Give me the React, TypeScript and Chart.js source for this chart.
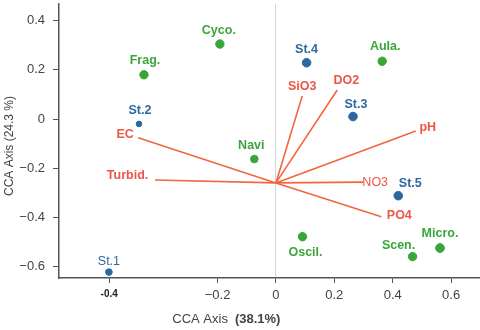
import React, { useEffect, useRef } from "react";
import { Chart, registerables } from "chart.js";

Chart.register(...registerables);

// ---- data ----
const siteNames = ["St.1", "St.2", "St.3", "St.4", "St.5"];
const siteX = [-0.572, -0.469, 0.264, 0.105, 0.419];
const siteY = [-0.623, -0.02, 0.01, 0.229, -0.312];

const speciesNames = ["Frag.", "Cyco.", "Aula.", "Navi", "Oscil.", "Scen.", "Micro."];
const speciesX = [-0.452, -0.192, 0.364, -0.074, 0.091, 0.468, 0.562];
const speciesY = [0.18, 0.305, 0.235, -0.163, -0.479, -0.56, -0.525];

const envNames = ["EC", "Turbid.", "SiO3", "DO2", "pH", "NO3", "PO4"];
const envX = [-0.472, -0.414, 0.09, 0.21, 0.479, 0.299, 0.361];
const envY = [-0.076, -0.248, 0.094, 0.118, -0.049, -0.257, -0.398];
const envOrigin = { x: 0, y: -0.26 };

const xTickValues = [-0.571, -0.2, 0, 0.2, 0.4, 0.6];
const xTickLabels = ["-0.4", "\u22120.2", "0", "0.2", "0.4", "0.6"];
const yTickValues = [-0.6, -0.4, -0.2, 0, 0.2, 0.4];
const yTickLabels = ["\u22120.6", "\u22120.4", "\u22120.2", "0", "0.2", "0.4"];

const xTitleMain = "CCA Axis";
const xTitleBold = "(38.1%)";
const yTitle = "CCA Axis (24.3 %)";

// ---- styles ----
const FONT = "'Liberation Sans', Arial, Helvetica, sans-serif";
const BLUE = "#2c68a0";
const GREEN = "#3aa63a";
const RED_LINE = "#f2653d";
const RED_TEXT = "#ec5646";
const AXIS = "#555555";
const TEXT = "#444444";
const LABEL_SIZE = 12.5;

const siteRadius = [3.3, 2.8, 4.3, 4.3, 4.3];
const speciesRadius = [4.2, 4.2, 4.2, 3.8, 4.2, 4.2, 4.4];

// label offsets (pixels, relative to point) and font weights
const siteLabelStyle = [
  { dx: 0, dy: -11, bold: false },
  { dx: 1, dy: -13, bold: true },
  { dx: 3, dy: -12, bold: true },
  { dx: 0, dy: -13, bold: true },
  { dx: 12, dy: -12, bold: true },
];
const speciesLabelStyle = [
  { dx: 1, dy: -14, bold: true },
  { dx: -1, dy: -14, bold: true },
  { dx: 3, dy: -15, bold: true },
  { dx: -3, dy: -14, bold: true },
  { dx: 3, dy: 16, bold: true },
  { dx: -14, dy: -11, bold: true },
  { dx: 0, dy: -14, bold: true },
];
const envLabelStyle = [
  { dx: -13, dy: -3, bold: true },
  { dx: -27.5, dy: -4, bold: true },
  { dx: 0, dy: -9.5, bold: true },
  { dx: 9, dy: -9, bold: true },
  { dx: 12, dy: -4, bold: true },
  { dx: 12, dy: 0, bold: false },
  { dx: 18, dy: -1, bold: true },
];

const labelPlugin = {
  id: "labelPlugin",
  afterDatasetsDraw(chart: any) {
    const ctx = chart.ctx;
    ctx.save();
    ctx.textAlign = "center";
    ctx.textBaseline = "middle";
    const drawSet = (dsIndex: number, names: string[], styles: any[], color: string) => {
      const meta = chart.getDatasetMeta(dsIndex);
      names.forEach((n, i) => {
        const el = meta.data[i];
        if (!el) return;
        const s = styles[i];
        ctx.font = `${s.bold ? "bold " : ""}${LABEL_SIZE}px ${FONT}`;
        ctx.fillStyle = color;
        ctx.fillText(n, el.x + s.dx, el.y + s.dy);
      });
    };
    drawSet(0, siteNames, siteLabelStyle, BLUE);
    drawSet(1, speciesNames, speciesLabelStyle, GREEN);
    envNames.forEach((n, i) => {
      const meta = chart.getDatasetMeta(2 + i);
      const el = meta.data[1];
      if (!el) return;
      const s = envLabelStyle[i];
      ctx.font = `${s.bold ? "bold " : ""}${LABEL_SIZE}px ${FONT}`;
      ctx.fillStyle = RED_TEXT;
      ctx.fillText(n, el.x + s.dx, el.y + s.dy);
    });

    // axis titles
    const xs = chart.scales.x;
    const area = chart.chartArea;
    ctx.fillStyle = TEXT;
    ctx.textAlign = "left";
    ctx.font = `13px ${FONT}`;
    const startX = xs.getPixelForValue(-0.355);
    ctx.fillText(xTitleMain, startX, 319);
    const w = ctx.measureText(xTitleMain).width;
    ctx.font = `bold 13px ${FONT}`;
    ctx.fillText(xTitleBold, startX + w + 7, 319);

    ctx.translate(10, (area.top + area.bottom) / 2 + 5);
    ctx.rotate(-Math.PI / 2);
    ctx.textAlign = "center";
    ctx.font = `12px ${FONT}`;
    ctx.fillText(yTitle, 0, 0);
    ctx.restore();
  },
};

export default function App() {
  const ref = useRef<HTMLCanvasElement | null>(null);
  useEffect(() => {
    document.body.style.margin = "0";
    if (!ref.current) return;
    const datasets: any[] = [
      {
        label: "sites",
        data: siteX.map((x, i) => ({ x, y: siteY[i] })),
        backgroundColor: BLUE,
        borderColor: BLUE,
        pointRadius: siteRadius,
        showLine: false,
        order: 0,
      },
      {
        label: "species",
        data: speciesX.map((x, i) => ({ x, y: speciesY[i] })),
        backgroundColor: GREEN,
        borderColor: GREEN,
        pointRadius: speciesRadius,
        showLine: false,
        order: 0,
      },
      ...envNames.map((n, i) => ({
        label: n,
        data: [
          { x: envOrigin.x, y: envOrigin.y },
          { x: envX[i], y: envY[i] },
        ],
        showLine: true,
        borderColor: RED_LINE,
        borderWidth: 1.6,
        pointRadius: 0,
        order: 1,
      })),
    ];
    const chart = new Chart(ref.current, {
      type: "scatter",
      data: { datasets },
      options: {
        animation: false,
        responsive: false,
        devicePixelRatio: 1,
        layout: { autoPadding: false, padding: { top: 4, left: 0, right: 0, bottom: 0 } },
        plugins: { legend: { display: false }, tooltip: { enabled: false } },
        scales: {
          x: {
            type: "linear",
            min: -0.743,
            max: 0.699,
            afterFit: (s: any) => {
              s.height = 52;
              s.paddingLeft = 0;
              s.paddingRight = 0;
            },
            afterBuildTicks: (s: any) => {
              s.ticks = xTickValues.map((v) => ({ value: v }));
            },
            border: { display: true, color: AXIS, width: 1.5 },
            grid: {
              drawOnChartArea: true,
              color: (c: any) => (c.tick && c.tick.value === 0 ? "#d4d4d4" : "rgba(0,0,0,0)"),
              tickColor: AXIS,
              tickLength: 5,
              lineWidth: 1,
            },
            ticks: {
              autoSkip: false,
              maxRotation: 0,
              padding: 5,
              color: (c: any) => (c.index === 0 ? "#222" : TEXT),
              font: (c: any) =>
                c.index === 0 ? { family: FONT, size: 10, weight: "bold" } : { family: FONT, size: 13 },
              callback: (_v: any, i: number) => xTickLabels[i],
            },
          },
          y: {
            type: "linear",
            min: -0.647,
            max: 0.468,
            afterFit: (s: any) => {
              s.width = 59;
              s.paddingTop = 0;
              s.paddingBottom = 0;
            },
            afterBuildTicks: (s: any) => {
              s.ticks = yTickValues.map((v) => ({ value: v }));
            },
            border: { display: true, color: AXIS, width: 1.5 },
            grid: {
              drawOnChartArea: false,
              tickColor: AXIS,
              tickLength: 6,
            },
            ticks: {
              autoSkip: false,
              padding: 8,
              color: TEXT,
              font: { family: FONT, size: 13 },
              callback: (_v: any, i: number) => yTickLabels[i],
            },
          },
        },
      },
      plugins: [labelPlugin],
    });
    return () => chart.destroy();
  }, []);
  return <canvas ref={ref} width={480} height={330} style={{ display: "block" }} />;
}
